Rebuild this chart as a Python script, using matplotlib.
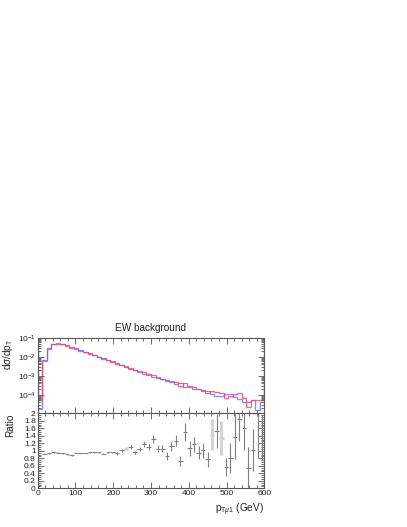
import numpy as np
import matplotlib
matplotlib.use("Agg")
import matplotlib.pyplot as plt
from matplotlib.ticker import MultipleLocator, LogLocator, FuncFormatter, NullFormatter

plt.rcParams['font.family'] = ['Liberation Sans', 'DejaVu Sans']
plt.rcParams['mathtext.fontset'] = 'custom'
plt.rcParams['mathtext.rm'] = 'Liberation Sans'
plt.rcParams['mathtext.it'] = 'Liberation Sans:italic'

# ---- data ----
bin_edges = np.arange(0, 601, 12)          # GeV, 50 bins
title = "EW background"
ylabel_top = r"d$\sigma$/dp$_{\mathrm{T}}$"
ylabel_ratio = "Ratio"
xlabel = r"p$_{\mathrm{T}\mu\mathrm{1}}$ (GeV)"

# log10 of dsigma/dpT, blue (reference) histogram
blue_log = [-4.75, -2.16, -1.53, -1.31, -1.27, -1.31, -1.38, -1.46, -1.55, -1.63,
            -1.72, -1.81, -1.89, -1.98, -2.06, -2.16, -2.24, -2.32, -2.43, -2.52,
            -2.62, -2.68, -2.78, -2.88, -2.95, -3.06, -3.11, -3.17, -3.20, -3.34,
            -3.42, -3.40, -3.58, -3.59, -3.68, -3.70, -3.78, -3.78, -3.95, -4.05,
            -4.05, -3.95, -3.95, -4.10, -4.20, -4.38, -4.40, -4.26, -4.80, -4.40]
# log10 of dsigma/dpT, red histogram
red_log = [-4.25, -2.20, -1.56, -1.33, -1.29, -1.34, -1.42, -1.52, -1.58, -1.66,
           -1.75, -1.83, -1.91, -2.00, -2.10, -2.18, -2.26, -2.35, -2.43, -2.50,
           -2.58, -2.70, -2.76, -2.81, -2.91, -2.94, -3.08, -3.14, -3.27, -3.29,
           -3.32, -3.54, -3.40, -3.56, -3.61, -3.72, -3.77, -3.89, -3.80, -3.87,
           -3.92, -4.19, -4.04, -3.96, -3.93, -4.17, -4.66, -4.25, -4.26, -4.27]

ratio = [3.16, 0.92, 0.93, 0.96, 0.95, 0.93, 0.91, 0.88, 0.94, 0.94,
         0.94, 0.96, 0.96, 0.96, 0.92, 0.96, 0.96, 0.93, 1.01, 1.05,
         1.11, 0.96, 1.05, 1.18, 1.10, 1.31, 1.06, 1.06, 0.86, 1.12,
         1.27, 0.73, 1.50, 1.07, 1.18, 0.95, 1.02, 0.77, 1.43, 1.53,
         1.34, 0.57, 0.82, 1.38, 1.85, 1.62, 0.55, 1.02, 3.00, 1.35]
ratio_err = [0.5, 0.01, 0.01, 0.01, 0.01, 0.01, 0.01, 0.01, 0.01, 0.01,
             0.01, 0.015, 0.015, 0.015, 0.015, 0.015, 0.015, 0.03, 0.03, 0.04,
             0.05, 0.04, 0.05, 0.08, 0.07, 0.10, 0.09, 0.10, 0.10, 0.12,
             0.15, 0.13, 0.25, 0.20, 0.20, 0.18, 0.20, 0.20, 0.42, 0.45,
             0.45, 0.25, 0.40, 0.60, 0.60, 0.60, 0.55, 0.55, 2.20, 0.60]
light_bins = [19, 38, 40]

# ---- figure ----
fig = plt.figure(figsize=(4.07, 5.27), dpi=100)
ax1 = fig.add_axes([0.0926, 0.2157, 0.5568, 0.1429])
ax2 = fig.add_axes([0.0926, 0.0734, 0.5568, 0.1423], sharex=ax1)

edges = np.asarray(bin_edges, dtype=float)
centers = 0.5 * (edges[:-1] + edges[1:])
halfw = 0.5 * (edges[1:] - edges[:-1])
blue = 10 ** np.asarray(blue_log)
red = 10 ** np.asarray(red_log)

blue_c = '#8080ff'
red_c = '#ee4466'
for vals, col, lw, a in [(blue, blue_c, 0.9, 0.95), (red, red_c, 0.9, 0.8)]:
    ax1.stairs(vals, edges, baseline=None, color=col, lw=lw, alpha=a)
    ax1.vlines([edges[0]], vals[0], 1.0, color=col, lw=lw, alpha=a)
    ax1.vlines([edges[-1]], vals[-1], 1.0, color=col, lw=lw, alpha=a)

ax1.set_yscale('log')
ax1.set_ylim(10 ** -4.98, 0.1)
ax1.set_xlim(edges[0], edges[-1])
ax1.yaxis.set_major_locator(LogLocator(base=10, numticks=10))
ax1.yaxis.set_minor_locator(LogLocator(base=10, subs=np.arange(2, 10), numticks=10))
ax1.yaxis.set_minor_formatter(NullFormatter())

# ratio
r = np.asarray(ratio)
e = np.asarray(ratio_err)
mask_dark = np.array([i not in light_bins for i in range(len(r))])
ax2.errorbar(centers[~mask_dark], r[~mask_dark], xerr=halfw[~mask_dark], yerr=e[~mask_dark],
             fmt='none', ecolor='#d4d4d4', elinewidth=2.2, capsize=0)
ax2.errorbar(centers[mask_dark], r[mask_dark], xerr=halfw[mask_dark], yerr=e[mask_dark],
             fmt='none', ecolor='#808080', elinewidth=0.8, capsize=0)
ax2.set_ylim(0, 2)
ax2.set_xlim(edges[0], edges[-1])
ax2.yaxis.set_major_locator(MultipleLocator(0.2))
ax2.yaxis.set_minor_locator(MultipleLocator(0.05))
ax2.yaxis.set_major_formatter(FuncFormatter(lambda v, p: '%g' % round(v, 2)))

for ax in (ax1, ax2):
    ax.xaxis.set_major_locator(MultipleLocator(100))
    ax.xaxis.set_minor_locator(MultipleLocator(20))
    ax.tick_params(which='both', direction='in', top=True, right=True,
                   colors='#555555', labelcolor='#222222', labelsize=6.0, width=0.6)
    ax.tick_params(which='major', length=4)
    ax.tick_params(which='minor', length=2)
    for s in ax.spines.values():
        s.set_color('#555555')
        s.set_linewidth(0.8)
ax1.tick_params(labelbottom=False, pad=1.5)
ax2.tick_params(axis='y', pad=1.5)
ax2.tick_params(axis='x', pad=1.5)

ax1.set_title(title, fontsize=7.2, pad=5, color='#222222')
ax1.set_ylabel(ylabel_top, fontsize=7.2, loc='top', color='#222222')
ax1.yaxis.set_label_coords(-0.10, 1.0)
ax2.set_ylabel(ylabel_ratio, fontsize=7.2, loc='top', color='#222222')
ax2.yaxis.set_label_coords(-0.10, 1.0)
fig.text(264 / 407, 1 - 509.5 / 527, xlabel, ha='right', va='center', fontsize=7.2, color='#222222')

fig.savefig('out.png', dpi=100)
